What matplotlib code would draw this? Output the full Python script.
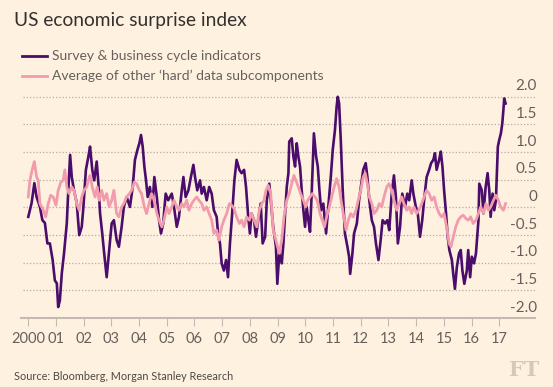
import matplotlib
matplotlib.use("Agg")
import matplotlib.pyplot as plt
from matplotlib.lines import Line2D

# survey & business cycle indicators (decimal year, index)
survey_x = [2000.00, 2000.12, 2000.22, 2000.30, 2000.42, 2000.51, 2000.60, 2000.69, 2000.78, 2000.88,
            2000.96, 2001.03, 2001.08, 2001.14, 2001.21, 2001.29, 2001.39, 2001.44, 2001.51, 2001.57,
            2001.65, 2001.75, 2001.84, 2001.93, 2001.99, 2002.08, 2002.17, 2002.23, 2002.31, 2002.38,
            2002.47, 2002.53, 2002.59, 2002.67, 2002.74, 2002.83, 2002.91, 2003.01, 2003.09, 2003.19,
            2003.27, 2003.37, 2003.45, 2003.55, 2003.67, 2003.77, 2003.85, 2003.94, 2004.01, 2004.07,
            2004.13, 2004.19, 2004.25, 2004.31, 2004.39, 2004.48, 2004.55, 2004.64, 2004.72, 2004.79,
            2004.87, 2004.96, 2005.05, 2005.18, 2005.26, 2005.36, 2005.44, 2005.54, 2005.60, 2005.68,
            2005.78, 2005.87, 2005.96, 2006.02, 2006.10, 2006.20, 2006.26, 2006.34, 2006.44, 2006.53,
            2006.62, 2006.70, 2006.80, 2006.86, 2006.92, 2006.98, 2007.06, 2007.14, 2007.21, 2007.28,
            2007.36, 2007.44, 2007.52, 2007.62, 2007.70, 2007.79, 2007.86, 2007.94, 2008.00, 2008.06,
            2008.15, 2008.22, 2008.30, 2008.39, 2008.46, 2008.55, 2008.61, 2008.70, 2008.84, 2008.94,
            2008.99, 2009.06, 2009.15, 2009.21, 2009.27, 2009.33, 2009.39, 2009.42, 2009.51, 2009.57,
            2009.63, 2009.69, 2009.75, 2009.81, 2009.87, 2009.93, 2009.99, 2010.05, 2010.11, 2010.17,
            2010.23, 2010.31, 2010.39, 2010.45, 2010.51, 2010.57, 2010.65, 2010.75, 2010.83, 2010.92,
            2010.99, 2011.07, 2011.13, 2011.17, 2011.22, 2011.28, 2011.35, 2011.43, 2011.52, 2011.58,
            2011.62, 2011.70, 2011.76, 2011.86, 2011.94, 2012.04, 2012.09, 2012.18, 2012.24, 2012.31,
            2012.40, 2012.48, 2012.55, 2012.64, 2012.72, 2012.79, 2012.88, 2012.96, 2013.03, 2013.12,
            2013.20, 2013.27, 2013.34, 2013.42, 2013.50, 2013.60, 2013.68, 2013.75, 2013.84, 2013.90,
            2013.99, 2014.06, 2014.14, 2014.22, 2014.30, 2014.38, 2014.47, 2014.54, 2014.62, 2014.68,
            2014.74, 2014.83, 2014.89, 2014.95, 2015.01, 2015.08, 2015.14, 2015.20, 2015.29, 2015.34,
            2015.40, 2015.47, 2015.55, 2015.61, 2015.67, 2015.74, 2015.83, 2015.88, 2015.95, 2016.01,
            2016.09, 2016.16, 2016.25, 2016.28, 2016.37, 2016.43, 2016.51, 2016.58, 2016.64, 2016.69,
            2016.76, 2016.82, 2016.88, 2016.95, 2017.00, 2017.06, 2017.11, 2017.15, 2017.18, 2017.23]
survey_y = [-0.17, 0.08, 0.44, 0.19, 0.01, -0.23, -0.28, -0.65, -0.65, -0.95,
            -1.32, -1.37, -1.80, -1.68, -1.19, -0.83, -0.29, 0.26, 0.95, 0.55,
            0.31, 0.08, -0.50, -0.35, 0.01, 0.68, 0.92, 1.10, 0.68, 0.49,
            0.83, 0.44, -0.10, -0.47, -0.83, -1.26, -0.83, -0.29, -0.23, -0.59,
            -0.71, -0.35, 0.01, 0.19, 0.01, 0.37, 0.86, 1.04, 1.16, 1.31,
            1.10, 0.74, 0.49, 0.19, 0.37, 0.01, 0.55, 0.19, -0.23, -0.47,
            -0.29, 0.25, 0.13, 0.25, 0.01, -0.35, -0.17, 0.31, 0.55, 0.19,
            0.31, 0.55, 0.77, 0.55, 0.31, 0.49, 0.25, 0.37, 0.13, 0.37,
            0.25, -0.05, -0.17, -0.53, -0.65, -1.01, -1.14, -0.95, -1.26, -0.65,
            -0.11, 0.49, 0.86, 0.68, 0.62, 0.68, 0.37, -0.17, -0.47, -0.11,
            -0.23, -0.53, -0.23, 0.07, -0.65, -0.53, 0.13, 0.43, -0.35, -0.71,
            -1.38, -0.83, -1.01, -0.65, -0.11, 0.37, 0.62, 1.19, 1.25, 0.92,
            0.74, 1.16, 0.92, 0.74, 0.31, -0.05, -0.35, 0.01, -0.23, -0.44,
            0.25, 1.34, 0.92, 0.74, 0.31, -0.05, 0.07, -0.47, 0.01, 0.55,
            1.04, 1.40, 1.82, 2.00, 1.88, 1.22, 0.31, -0.47, -0.71, -0.89,
            -1.20, -0.83, -0.47, -0.29, 0.13, 0.49, 0.68, 0.80, 0.55, 0.13,
            -0.23, -0.35, -0.65, -0.95, -0.59, -0.23, -0.29, -0.23, -0.41, 0.25,
            0.58, 0.19, -0.65, -0.35, 0.25, 0.01, 0.25, 0.13, 0.49, 0.25,
            0.01, -0.11, -0.53, -0.23, 0.19, 0.55, 0.68, 0.80, 0.86, 0.98,
            0.68, 0.86, 1.01, 0.74, 0.31, -0.11, -0.53, -0.77, -0.95, -1.20,
            -1.47, -1.08, -0.83, -0.77, -1.14, -1.38, -1.14, -0.77, -1.26, -0.89,
            -1.01, -0.83, -0.23, 0.43, 0.31, -0.11, 0.37, 0.62, 0.31, -0.17,
            0.25, -0.05, 0.13, 1.10, 1.22, 1.34, 1.52, 1.76, 1.97, 1.88]

# average of other 'hard' data subcomponents
hard_x = [2000.00, 2000.06, 2000.14, 2000.22, 2000.30, 2000.36, 2000.42, 2000.54, 2000.63, 2000.72,
          2000.81, 2000.90, 2001.00, 2001.08, 2001.18, 2001.26, 2001.32, 2001.39, 2001.47, 2001.57,
          2001.65, 2001.75, 2001.84, 2001.93, 2002.01, 2002.11, 2002.17, 2002.23, 2002.31, 2002.41,
          2002.49, 2002.56, 2002.65, 2002.73, 2002.83, 2002.92, 2003.01, 2003.09, 2003.19, 2003.27,
          2003.37, 2003.45, 2003.55, 2003.65, 2003.73, 2003.83, 2003.91, 2004.01, 2004.09, 2004.19,
          2004.27, 2004.36, 2004.45, 2004.54, 2004.64, 2004.72, 2004.82, 2004.90, 2005.00, 2005.08,
          2005.18, 2005.26, 2005.36, 2005.44, 2005.54, 2005.62, 2005.72, 2005.80, 2005.90, 2005.98,
          2006.08, 2006.16, 2006.26, 2006.34, 2006.44, 2006.53, 2006.62, 2006.70, 2006.80, 2006.88,
          2006.98, 2007.06, 2007.16, 2007.26, 2007.34, 2007.43, 2007.52, 2007.62, 2007.70, 2007.79,
          2007.88, 2007.98, 2008.06, 2008.15, 2008.25, 2008.34, 2008.43, 2008.51, 2008.58, 2008.66,
          2008.75, 2008.84, 2008.97, 2009.06, 2009.15, 2009.23, 2009.33, 2009.42, 2009.51, 2009.59,
          2009.66, 2009.75, 2009.83, 2009.93, 2010.01, 2010.09, 2010.17, 2010.25, 2010.35, 2010.43,
          2010.53, 2010.61, 2010.69, 2010.77, 2010.87, 2010.95, 2011.04, 2011.13, 2011.22, 2011.29,
          2011.37, 2011.47, 2011.55, 2011.64, 2011.73, 2011.83, 2011.91, 2012.00, 2012.09, 2012.16,
          2012.24, 2012.31, 2012.40, 2012.48, 2012.58, 2012.67, 2012.76, 2012.84, 2012.94, 2013.02,
          2013.12, 2013.20, 2013.30, 2013.39, 2013.48, 2013.56, 2013.66, 2013.75, 2013.84, 2013.92,
          2014.02, 2014.10, 2014.20, 2014.29, 2014.38, 2014.47, 2014.56, 2014.65, 2014.74, 2014.83,
          2014.92, 2015.01, 2015.10, 2015.19, 2015.26, 2015.34, 2015.43, 2015.52, 2015.61, 2015.70,
          2015.80, 2015.88, 2015.97, 2016.06, 2016.16, 2016.25, 2016.33, 2016.43, 2016.52, 2016.61,
          2016.69, 2016.79, 2016.88, 2016.97, 2017.05, 2017.15, 2017.23]
hard_y = [0.19, 0.49, 0.68, 0.83, 0.55, 0.49, 0.07, -0.05, -0.17, 0.07,
          0.22, 0.19, 0.04, 0.31, 0.46, 0.49, 0.68, 0.37, 0.25, 0.37,
          0.31, 0.07, -0.05, 0.19, 0.31, 0.37, 0.49, 0.58, 0.37, 0.19,
          0.37, 0.13, 0.31, 0.13, 0.25, 0.01, 0.13, 0.31, -0.11, -0.17,
          0.01, 0.07, 0.19, 0.25, 0.31, 0.46, 0.43, 0.31, 0.25, 0.01,
          -0.11, 0.07, 0.25, 0.13, -0.11, -0.23, -0.35, -0.23, 0.01, -0.11,
          0.01, 0.13, 0.01, -0.05, 0.07, 0.01, 0.13, -0.05, 0.07, 0.13,
          0.19, 0.13, 0.07, -0.05, 0.01, -0.11, -0.23, -0.47, -0.41, -0.59,
          -0.35, -0.23, -0.11, 0.07, 0.04, -0.02, -0.17, -0.29, -0.23, -0.35,
          -0.17, -0.23, -0.11, -0.23, -0.35, -0.05, 0.07, 0.13, 0.31, 0.40,
          0.25, -0.40, -0.65, -0.83, -0.59, -0.17, 0.13, 0.25, 0.43, 0.58,
          0.49, 0.37, 0.25, 0.13, 0.01, 0.13, 0.19, 0.25, 0.19, 0.13,
          -0.11, -0.23, -0.35, -0.17, 0.01, 0.19, 0.37, 0.52, 0.37, 0.13,
          -0.11, -0.41, -0.23, -0.11, -0.17, -0.05, 0.13, 0.31, 0.55, 0.62,
          0.43, 0.19, 0.07, -0.11, -0.05, 0.07, 0.01, 0.19, 0.37, 0.43,
          0.31, 0.13, -0.05, 0.07, 0.19, 0.07, -0.05, 0.01, -0.11, 0.01,
          -0.11, -0.05, 0.07, 0.19, 0.31, 0.25, 0.13, 0.19, 0.01, -0.11,
          -0.17, -0.11, -0.35, -0.65, -0.71, -0.53, -0.35, -0.23, -0.17, -0.14,
          -0.20, -0.23, -0.17, -0.29, -0.23, -0.11, 0.01, -0.11, 0.07, -0.05,
          0.01, 0.13, 0.22, 0.13, 0.01, -0.05, 0.07]

years = list(range(2000, 2018))
year_labels = ["2000"] + ["%02d" % (y % 100) for y in years[1:]]
yticks = [-2.0, -1.5, -1.0, -0.5, 0, 0.5, 1.0, 1.5, 2.0]

BG = "#fff1e0"
PURPLE = "#4a0d6b"
PINK = "#f19bac"
GREY = "#66605c"

plt.rcParams["font.family"] = ["Lato", "DejaVu Sans"]

fig = plt.figure(figsize=(5.53, 3.87), dpi=100, facecolor=BG)
ax = fig.add_axes([0.0374, 0.178, 0.930, 0.589])
ax.set_facecolor(BG)

ax.set_xlim(1999.726, 2018.29)
ax.set_ylim(-2.0, 2.12)

for v in yticks[1:]:
    ax.axhline(v, xmin=0.005, xmax=1, color="#b5ada5", lw=0.9, ls=(0, (1, 1.6)), zorder=1)
for v in yticks:
    lab = "0" if v == 0 else "%.1f" % v
    ax.annotate(lab, xy=(1.004, v), xycoords=("axes fraction", "data"),
                xytext=(0, 2.5), textcoords="offset points",
                ha="right", va="bottom", fontsize=11, color=GREY, annotation_clip=False)

ax.plot(survey_x, survey_y, color=PURPLE, lw=1.9, zorder=3, solid_joinstyle="round")
ax.plot(hard_x, hard_y, color=PINK, lw=2.0, zorder=4, solid_joinstyle="round")

for s in ["top", "right", "left"]:
    ax.spines[s].set_visible(False)
ax.spines["bottom"].set_color("#c3bbb2")
ax.spines["bottom"].set_linewidth(1.5)
ax.set_yticks([])
ax.set_xticks(years)
ax.set_xticklabels(year_labels)
ax.tick_params(axis="x", direction="out", length=6, width=0.8, color="#c3bbb2",
               labelsize=10.5, labelcolor=GREY, pad=4)

fig.text(0.025, 0.946, "US economic surprise index", fontsize=13.8, color="#33302e",
         ha="left", va="center")
legend_items = [("Survey & business cycle indicators", PURPLE),
                ("Average of other \u2018hard\u2019 data subcomponents", PINK)]
for i, (txt, col) in enumerate(legend_items):
    yy = 1 - (55.5 + 20.5 * i) / 387
    fig.add_artist(Line2D([22 / 553, 47 / 553], [yy, yy], color=col, lw=2))
    fig.text(52 / 553, yy, txt, fontsize=10, color=GREY, ha="left", va="center")

fig.text(13.5 / 553, 1 - 377 / 387, "Source: Bloomberg, Morgan Stanley Research",
         fontsize=7.8, color="#4d4845", ha="left", va="center")
fig.text(539 / 553, 1 - 370 / 387, "FT", fontsize=15, color="#d2c8bc", ha="right",
         va="center", family="DejaVu Serif", weight="bold")

fig.savefig("out.png", dpi=100, facecolor=BG)
